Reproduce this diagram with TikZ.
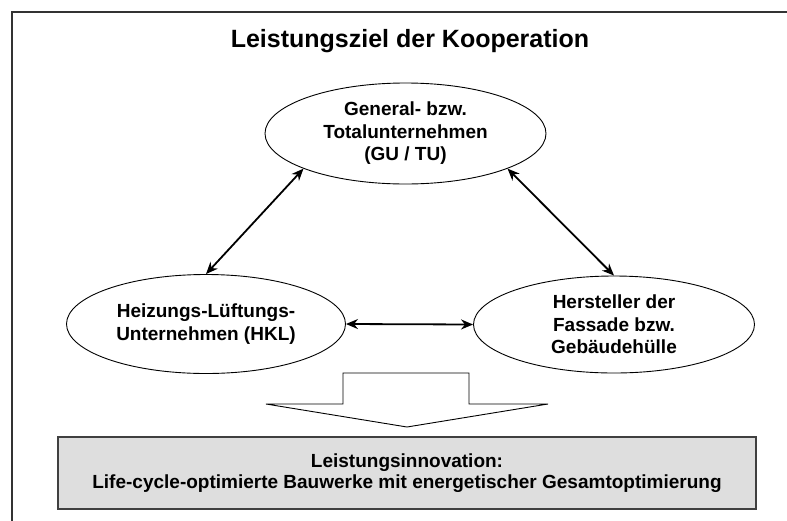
\documentclass[tikz,border=0pt]{standalone}
\usepackage{fontspec}
\setmainfont{Liberation Sans}
\usetikzlibrary{shapes.geometric,arrows.meta}

\tikzset{
	partner/.style={ellipse, draw=black, line width=0.9pt, align=center, inner xsep=-80pt, inner ysep=-40pt, font=\bfseries\fontsize{19}{22.5}\selectfont},
	link/.style={{Stealth[length=12pt,width=10pt]}-{Stealth[length=12pt,width=10pt]}, line width=1.8pt},
	heading/.style={font=\bfseries\fontsize{25}{30}\selectfont, inner sep=0pt},
	result/.style={draw=black!75, line width=1.5pt, fill=black!13, minimum width=698pt, minimum height=72pt, align=center, font=\bfseries\fontsize{19}{21}\selectfont}
}

\begin{document}
\begin{tikzpicture}[x=1pt,y=-1pt]
				\clip (0,0) rectangle (787,520);
				\draw [black!80, line width=1.5pt] (12,12) rectangle (820,560);
				\node [heading] (ziel) at (410,41) {Leistungsziel der Kooperation};
				\node [partner, minimum width=281pt, minimum height=101pt] (gu) at (405.5,133.5) {General- bzw.\\Totalunternehmen\\(GU / TU)};
				\node [partner, minimum width=279pt, minimum height=99pt] (hkl) at (206,324) {Heizungs-L\"uftungs-\\Unternehmen (HKL)};
				\node [partner, minimum width=281pt, minimum height=97pt] (fassade) at (614,324.5) {Hersteller der\\Fassade bzw.\\Geb\"audeh\"ulle};
				\draw [link] (gu.199) -- (hkl.north);
				\draw [link] (gu.341) -- (fassade.north);
				\draw [link] (hkl.east) -- (fassade.west);
				\draw [black, line width=0.9pt] (343,373) -- (469,373) -- (469,404) -- (548,404) -- (407,427) -- (266,404) -- (343,404) -- cycle;
				\node [result] (innovation) at (407,473) {Leistungsinnovation:\\Life-cycle-optimierte Bauwerke mit energetischer Gesamtoptimierung};
\end{tikzpicture}
\end{document}
